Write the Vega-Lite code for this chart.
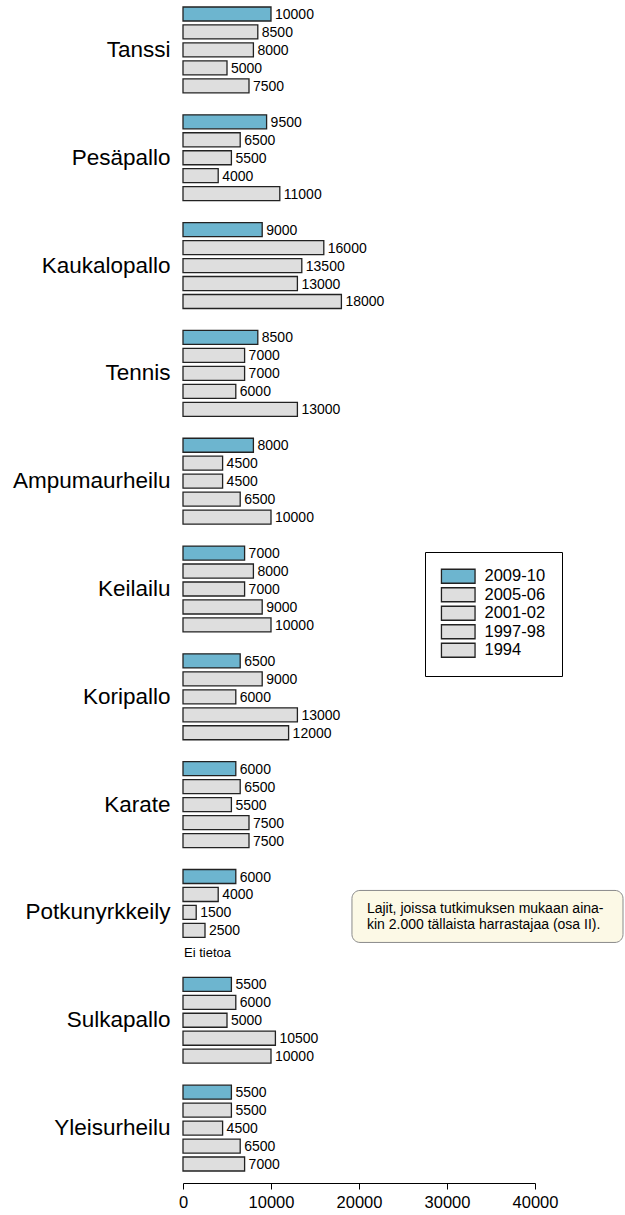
{
  "$schema": "https://vega.github.io/schema/vega-lite/v6.json",
  "autosize": "none",
  "width": 352,
  "height": 1168,
  "padding": {"left": 183, "top": 5, "right": 90, "bottom": 42},
  "background": "white",
  "config": {
    "font": "Liberation Sans",
    "view": {"stroke": null}
  },
  "datasets": {
    "bars": [
      {"sport": "Tanssi", "year": "2009-10", "value": 10000},
      {"sport": "Tanssi", "year": "2005-06", "value": 8500},
      {"sport": "Tanssi", "year": "2001-02", "value": 8000},
      {"sport": "Tanssi", "year": "1997-98", "value": 5000},
      {"sport": "Tanssi", "year": "1994", "value": 7500},
      {"sport": "Pesäpallo", "year": "2009-10", "value": 9500},
      {"sport": "Pesäpallo", "year": "2005-06", "value": 6500},
      {"sport": "Pesäpallo", "year": "2001-02", "value": 5500},
      {"sport": "Pesäpallo", "year": "1997-98", "value": 4000},
      {"sport": "Pesäpallo", "year": "1994", "value": 11000},
      {"sport": "Kaukalopallo", "year": "2009-10", "value": 9000},
      {"sport": "Kaukalopallo", "year": "2005-06", "value": 16000},
      {"sport": "Kaukalopallo", "year": "2001-02", "value": 13500},
      {"sport": "Kaukalopallo", "year": "1997-98", "value": 13000},
      {"sport": "Kaukalopallo", "year": "1994", "value": 18000},
      {"sport": "Tennis", "year": "2009-10", "value": 8500},
      {"sport": "Tennis", "year": "2005-06", "value": 7000},
      {"sport": "Tennis", "year": "2001-02", "value": 7000},
      {"sport": "Tennis", "year": "1997-98", "value": 6000},
      {"sport": "Tennis", "year": "1994", "value": 13000},
      {"sport": "Ampumaurheilu", "year": "2009-10", "value": 8000},
      {"sport": "Ampumaurheilu", "year": "2005-06", "value": 4500},
      {"sport": "Ampumaurheilu", "year": "2001-02", "value": 4500},
      {"sport": "Ampumaurheilu", "year": "1997-98", "value": 6500},
      {"sport": "Ampumaurheilu", "year": "1994", "value": 10000},
      {"sport": "Keilailu", "year": "2009-10", "value": 7000},
      {"sport": "Keilailu", "year": "2005-06", "value": 8000},
      {"sport": "Keilailu", "year": "2001-02", "value": 7000},
      {"sport": "Keilailu", "year": "1997-98", "value": 9000},
      {"sport": "Keilailu", "year": "1994", "value": 10000},
      {"sport": "Koripallo", "year": "2009-10", "value": 6500},
      {"sport": "Koripallo", "year": "2005-06", "value": 9000},
      {"sport": "Koripallo", "year": "2001-02", "value": 6000},
      {"sport": "Koripallo", "year": "1997-98", "value": 13000},
      {"sport": "Koripallo", "year": "1994", "value": 12000},
      {"sport": "Karate", "year": "2009-10", "value": 6000},
      {"sport": "Karate", "year": "2005-06", "value": 6500},
      {"sport": "Karate", "year": "2001-02", "value": 5500},
      {"sport": "Karate", "year": "1997-98", "value": 7500},
      {"sport": "Karate", "year": "1994", "value": 7500},
      {"sport": "Potkunyrkkeily", "year": "2009-10", "value": 6000},
      {"sport": "Potkunyrkkeily", "year": "2005-06", "value": 4000},
      {"sport": "Potkunyrkkeily", "year": "2001-02", "value": 1500},
      {"sport": "Potkunyrkkeily", "year": "1997-98", "value": 2500},
      {"sport": "Potkunyrkkeily", "year": "1994", "value": null, "note": "Ei tietoa"},
      {"sport": "Sulkapallo", "year": "2009-10", "value": 5500},
      {"sport": "Sulkapallo", "year": "2005-06", "value": 6000},
      {"sport": "Sulkapallo", "year": "2001-02", "value": 5000},
      {"sport": "Sulkapallo", "year": "1997-98", "value": 10500},
      {"sport": "Sulkapallo", "year": "1994", "value": 10000},
      {"sport": "Yleisurheilu", "year": "2009-10", "value": 5500},
      {"sport": "Yleisurheilu", "year": "2005-06", "value": 5500},
      {"sport": "Yleisurheilu", "year": "2001-02", "value": 4500},
      {"sport": "Yleisurheilu", "year": "1997-98", "value": 6500},
      {"sport": "Yleisurheilu", "year": "1994", "value": 7000}
    ],
    "note": [
      {"sport": "Potkunyrkkeily", "text": ["Lajit, joissa tutkimuksen mukaan aina-", "kin 2.000 tällaista harrastajaa (osa II)."]}
    ]
  },
  "layer": [
    {
      "data": {"name": "bars"},
      "mark": {"type": "bar", "stroke": "#222222", "strokeWidth": 1.3},
      "encoding": {
        "y": {
          "field": "sport", "type": "nominal", "sort": null,
          "scale": {"paddingInner": 0.1667, "paddingOuter": 0},
          "axis": {"title": null, "domain": false, "ticks": false, "labelPadding": 13, "labelFontSize": 22.5, "labelColor": "black", "labelFont": "Liberation Sans"}
        },
        "yOffset": {
          "field": "year", "type": "nominal",
          "sort": ["2009-10", "2005-06", "2001-02", "1997-98", "1994"],
          "scale": {"paddingInner": 0.22, "paddingOuter": 0.11}
        },
        "x": {
          "field": "value", "type": "quantitative",
          "scale": {"domain": [0, 40000], "nice": false, "zero": true},
          "axis": {"title": null, "values": [0, 10000, 20000, 30000, 40000], "format": "d", "grid": false, "offset": 10, "tickSize": 6, "domainColor": "black", "tickColor": "black", "labelColor": "black", "labelFontSize": 16.5, "labelPadding": 5, "labelFlush": false, "labelOverlap": false, "labelFont": "Liberation Sans"}
        },
        "fill": {
          "field": "year", "type": "nominal",
          "sort": ["2009-10", "2005-06", "2001-02", "1997-98", "1994"],
          "scale": {"domain": ["2009-10", "2005-06", "2001-02", "1997-98", "1994"], "range": ["#6DB5CF", "#DEDEDE", "#DEDEDE", "#DEDEDE", "#DEDEDE"]},
          "legend": {
            "title": null, "orient": "none", "legendX": 242, "legendY": 547,
            "strokeColor": "black", "fillColor": "white", "padding": 16,
            "symbolType": "M-2.4,-1H2.4V1H-2.4Z", "symbolSize": 196, "symbolOffset": 9,
            "symbolStrokeColor": "#222222", "symbolStrokeWidth": 1.3, "symbolOpacity": 1,
            "labelFontSize": 16.5, "labelOffset": 18, "labelColor": "black", "rowPadding": -1.5, "labelFont": "Liberation Sans"
          }
        }
      }
    },
    {
      "data": {"name": "bars"},
      "transform": [{"filter": "datum.value != null"}],
      "mark": {"type": "text", "align": "left", "baseline": "middle", "dx": 4, "dy": 1, "fontSize": 14, "color": "black"},
      "encoding": {
        "y": {"field": "sport", "type": "nominal", "sort": null},
        "yOffset": {"field": "year", "type": "nominal", "sort": ["2009-10", "2005-06", "2001-02", "1997-98", "1994"]},
        "x": {"field": "value", "type": "quantitative"},
        "text": {"field": "value", "type": "quantitative", "format": "d"}
      }
    },
    {
      "data": {"name": "bars"},
      "transform": [{"filter": "datum.note != null"}],
      "mark": {"type": "text", "align": "left", "baseline": "middle", "dx": 1, "dy": 5, "fontSize": 13, "color": "black"},
      "encoding": {
        "y": {"field": "sport", "type": "nominal", "sort": null},
        "yOffset": {"field": "year", "type": "nominal", "sort": ["2009-10", "2005-06", "2001-02", "1997-98", "1994"]},
        "x": {"datum": 0, "type": "quantitative"},
        "text": {"field": "note", "type": "nominal"}
      }
    },
    {
      "data": {"name": "note"},
      "mark": {"type": "bar", "height": 52, "yOffset": 4, "cornerRadius": 8, "fill": "#FCF9E6", "stroke": "#8A8A8A", "strokeWidth": 1},
      "encoding": {
        "y": {"field": "sport", "type": "nominal", "sort": null},
        "x": {"datum": 19200, "type": "quantitative"},
        "x2": {"datum": 50000}
      }
    },
    {
      "data": {"name": "note"},
      "mark": {"type": "text", "align": "left", "baseline": "middle", "dy": -3, "fontSize": 14, "lineHeight": 16, "color": "black"},
      "encoding": {
        "y": {"field": "sport", "type": "nominal", "sort": null},
        "x": {"datum": 20900, "type": "quantitative"},
        "text": {"field": "text"}
      }
    }
  ]
}
